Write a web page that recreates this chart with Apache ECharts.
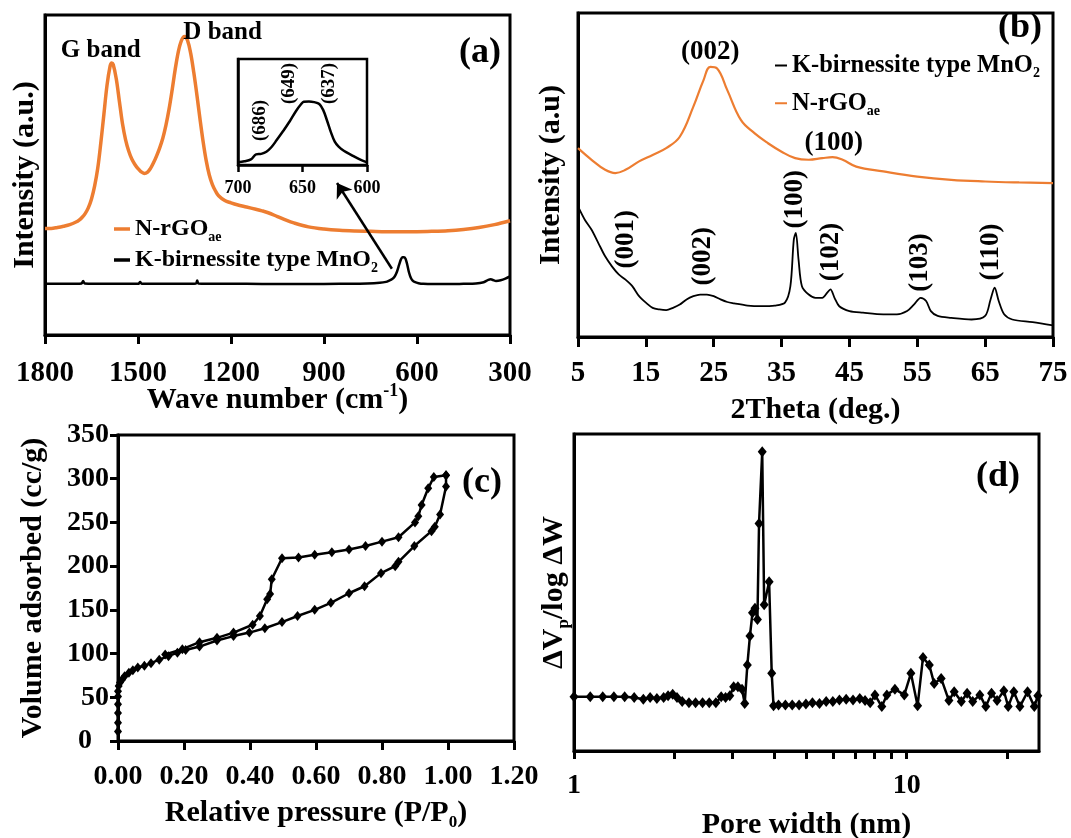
<!DOCTYPE html>
<html><head><meta charset="utf-8">
<script src="https://cdn.jsdelivr.net/npm/echarts@6/dist/echarts.min.js"></script>
<style>html,body{margin:0;padding:0;background:#fff}#c{width:1071px;height:838px}</style>
</head><body><div id="c"></div>
<script>
// ---------- (a) Raman ----------
const ramanWave = [1800,1780,1760,1740,1720,1700,1690,1680,1670,1660,1650,1640,1630,1620,1610,1600,1590,1585,1580,1570,1560,1550,1540,1530,1520,1510,1500,1490,1480,1470,1460,1450,1440,1430,1420,1410,1400,1390,1380,1370,1360,1350,1340,1330,1320,1310,1300,1290,1280,1270,1260,1250,1240,1220,1200,1180,1150,1120,1100,1080,1050,1020,1000,950,900,850,800,750,700,650,600,550,500,450,400,350,300];
const ramanNrGO = [33.3,33.3,33.6,34.0,34.5,35.3,35.9,36.8,38.0,39.8,42.5,46.5,52,60,69,78,84,85,84.5,80,73,66,61,57.5,55,53.3,52,51,50.5,50.8,52,53.8,56,58.5,61.5,65.5,70.5,76.5,83,88.5,92,93.3,92,88,82,75,67.5,60.5,54.5,50,47,45,43.5,42,41.3,40.7,40,39.3,38.8,38.2,37,35.8,35.1,33.8,33.1,32.7,32.5,32.4,32.3,32.3,32.3,32.4,32.6,33,33.6,34.5,35.7];
const ramanMnWave = [1800,1750,1700,1682,1677,1672,1600,1550,1500,1497,1493,1488,1400,1350,1313,1309,1305,1250,1150,1050,950,850,760,720,700,690,680,672,665,658,652,647,642,637,632,626,620,614,606,595,580,550,500,450,410,385,370,362,355,345,330,315,300];
const ramanMnO2 = [16,16,16,16.1,16.9,16.1,16,16,16,16.1,16.6,16.0,16,16,16.1,17.0,16.1,16,16,15.9,15.9,16,16.1,16.3,16.6,17.0,17.5,18.3,19.7,21.8,23.6,24.3,24.3,23.8,22.2,19.6,17.9,17.0,16.5,16.2,16,15.9,15.9,16,16.1,16.5,17.2,17.4,17.2,16.9,17.1,17.6,18.3];
const insetWave = [700,695,690,686,682,678,674,670,665,660,655,651,649,645,641,637,634,631,628,625,622,618,612,606,600];
const insetMnO2 = [2.5,3.5,5.3,10,10.5,12.5,17,23.5,32,41,51,57.5,59.7,60,59.3,57.5,52,42,31,22,17.3,13.5,9.4,5.5,2.5];
const ramanTicks = [300,600,900,1200,1500,1800];
const insetTicks = [600,650,700];
// ---------- (b) XRD ----------
const xrdThetaGO = [5,7,9,10.5,12,14,16,18,20,22,23.5,24.5,25.5,27,29,31,33,35,37,39,41,42.5,44,46,50,55,60,65,70,75];
const xrdNrGO = [58.3,54.7,51.6,50.6,51.6,54.2,56.2,58.3,61.8,71.1,79.3,83.4,82.9,76.2,67,62.9,59.8,57.2,55.2,54.7,55.2,55.5,54.7,52.6,51.1,49.5,48.5,48,47.7,47.5];
const xrdThetaMn = [5,6,7,8,9,10,11,12,13,14,15,16,17,18,19,20,21,22,23,24,25,26,27,28,30,32,34,35.5,36.3,36.8,37.1,37.5,38,39,40,41,41.7,42.2,42.8,43.5,45,47,50,52,53.5,54.5,55.5,56.3,57,58,60,63,65,65.8,66.4,67,67.8,69,72,75];
const xrdMnO2 = [40.3,36.2,33.1,29,24.9,21.8,19.3,17.7,15.7,12.6,10.6,9,8.5,8.3,9,10,11.6,12.6,13.1,13.1,12.6,11.6,10.8,10.4,9.7,9.5,9.7,10.6,15.7,30,32.1,23.9,15.7,13.1,12.1,12.1,13.6,14.7,12.1,9.5,8,7.5,7,7,8,10,12.1,11.1,8,6.5,5.9,5.4,6.5,11.6,15.2,11.1,7,5.4,4.6,3.6];
const xrdTicks = [5,15,25,35,45,55,65,75];
// ---------- (c) BET isotherm ----------
const adsP = [0,0,0,0,0,0,0.002,0.006,0.012,0.02,0.033,0.045,0.06,0.08,0.10,0.125,0.153,0.18,0.205,0.247,0.30,0.35,0.398,0.445,0.497,0.544,0.596,0.645,0.70,0.747,0.797,0.84,0.85,0.898,0.95,0.96,0.976,0.994,0.994];
const adsV = [11,21,32,42,51,57,63,67,70,74,78,81,84,86,89,93,97,101,104,108,115,120,124,129,136,143,150,158,169,177,192,200,205,223,240,245,259,291,304];
const desP = [0.994,0.957,0.94,0.92,0.91,0.90,0.85,0.80,0.75,0.70,0.648,0.596,0.547,0.497,0.466,0.461,0.452,0.43,0.408,0.35,0.30,0.247,0.195,0.143];
const desV = [304,302,289,270,257,250,233,228,223,219,216,213,210,209,185,168,162,143,133,124,118,113,105,99];
const bet_xTicks = [0,0.2,0.4,0.6,0.8,1.0,1.2];
// ---------- (d) pore size distribution ----------
const poreWidth = [1.0,1.119,1.22,1.318,1.42,1.517,1.616,1.694,1.775,1.86,1.918,1.98,2.04,2.115,2.216,2.32,2.435,2.55,2.67,2.77,2.855,2.94,3.02,3.11,3.2,3.26,3.32,3.38,3.44,3.5,3.56,3.6,3.68,3.73,3.86,3.93,3.98,4.12,4.32,4.53,4.75,4.98,5.21,5.47,5.73,6.0,6.28,6.58,6.9,7.23,7.5,7.77,8.03,8.42,8.72,9.22,9.84,10.3,10.79,11.2,11.7,12.1,12.7,13.4,13.9,14.6,15.2,15.8,16.6,17.3,18.0,18.7,19.6,20.2,21.0,21.9,23.1,24.2,24.8];
const poreDist = [17.1,17.1,17.1,17.1,17.1,16.9,16.3,16.9,16.6,16.9,17.4,17.9,16.9,15.6,15.2,15.2,15.2,15.2,15.2,17.1,16.9,17.4,20.3,20.3,19.5,15.0,27.1,36.3,43.6,45.0,41.5,71.8,94.4,46.1,53.4,24.5,14.3,14.5,14.5,14.5,14.5,14.8,15.2,15.0,15.6,15.6,16.1,16.3,16.1,16.6,15.9,15.2,17.7,14.0,17.7,19.5,17.7,24.5,14.3,29.5,27.1,21.3,22.9,15.9,18.7,15.6,18.2,15.6,17.7,14.0,18.2,15.9,19.0,14.0,18.7,14.0,18.7,14.0,17.4];
const poreTicks = [1,2,3,4,5,6,7,8,9,10,20];
const poreLabels = [1,10];

const zip = (a, b) => a.map((v, i) => [v, b[i]]);
const FONT = "'Liberation Serif','Times New Roman',serif";
const ORANGE = '#ED7D31';
const T = (s, extra) => Object.assign({fontFamily: FONT, fontWeight: 'bold', fontSize: s, color: '#000'}, extra || {});
const richSet = (s) => ({
  t: T(s, {lineHeight: s + 6}),
  s: T(Math.round(s * 0.58), {verticalAlign: 'bottom', lineHeight: Math.round(s * 0.7)}),
  sup: T(Math.round(s * 0.6), {verticalAlign: 'top', lineHeight: Math.round(s * 0.75)})
});
const plain = v => String(v);

function xAx(o) {
  return Object.assign({
    type: 'value', splitLine: {show: false},
    axisLine: {show: true, onZero: false, lineStyle: {color: '#000', width: 3}},
    axisTick: {show: true, inside: false, length: 9, lineStyle: {color: '#000', width: 3}},
    axisLabel: T(29, {margin: 22, formatter: plain}),
    nameLocation: 'middle'
  }, o);
}
function yAx(o) {
  return Object.assign({
    type: 'value', min: 0, max: 100, splitLine: {show: false},
    axisLine: {show: true, onZero: false, lineStyle: {color: '#000', width: 3}},
    axisTick: {show: false}, axisLabel: {show: false},
    nameLocation: 'middle'
  }, o);
}
function gridOf(o) {
  return Object.assign({show: true, borderColor: '#000', borderWidth: 3, backgroundColor: 'transparent', containLabel: false, outerBoundsMode: 'none'}, o);
}
const markPts = (items, size, extra) => ({
  symbol: 'rect', symbolSize: 1, silent: true,
  itemStyle: {color: 'rgba(0,0,0,0)'},
  label: T(size, Object.assign({show: true, position: 'inside', formatter: '{b}'}, extra || {})),
  data: items
});
const legendFmt = (name) => name === 'N-rGOae' ? '{t|N-rGO}{s|ae}' : '{t|K-birnessite type MnO}{s|2}';
const tickStyle = (len, vals) => ({show: true, inside: false, length: len, lineStyle: {color: '#000', width: 3}, customValues: vals});

const chart = echarts.init(document.getElementById('c'), null, {renderer: 'canvas'});
chart.setOption({
  animation: false,
  backgroundColor: '#fff',
  grid: [
    gridOf({left: 45, top: 15, width: 465, height: 320}),
    gridOf({left: 238, top: 59, width: 129, height: 106, borderWidth: 2.5}),
    gridOf({left: 578, top: 13, width: 475, height: 324}),
    gridOf({left: 118, top: 435, width: 396, height: 306}),
    gridOf({left: 574, top: 434, width: 465, height: 317})
  ],
  xAxis: [
    xAx({gridIndex: 0, min: 300, max: 1800, inverse: true,
      axisTick: tickStyle(9, ramanTicks),
      axisLabel: T(29, {margin: 24, formatter: plain, customValues: ramanTicks}),
      name: '{t|Wave number (cm}{sup|-1}{t|)}', nameGap: 47, nameMoveOverlap: false,
      nameTextStyle: T(30, {rich: richSet(30)})}),
    xAx({gridIndex: 1, min: 600, max: 700, inverse: true,
      axisLine: {show: true, onZero: false, lineStyle: {color: '#000', width: 2.5}},
      axisTick: {show: true, length: 7, lineStyle: {color: '#000', width: 2.5}, customValues: insetTicks},
      axisLabel: T(18, {margin: 14, formatter: plain, customValues: insetTicks})}),
    xAx({gridIndex: 2, min: 5, max: 75,
      axisTick: tickStyle(10, xrdTicks),
      axisLabel: T(29, {margin: 22, formatter: plain, customValues: xrdTicks}),
      name: '2Theta (deg.)', nameGap: 58, nameTextStyle: T(30)}),
    xAx({gridIndex: 3, min: 0, max: 1.2,
      axisTick: tickStyle(9, bet_xTicks),
      axisLabel: T(28, {margin: 22, customValues: bet_xTicks, formatter: v => v.toFixed(2)}),
      name: '{t|Relative pressure (P/P}{s|0}{t|)}', nameGap: 54,
      nameTextStyle: T(30, {rich: richSet(30)})}),
    xAx({gridIndex: 4, type: 'log', logBase: 10, min: 1, max: 25,
      axisTick: tickStyle(8, poreTicks),
      axisLabel: T(28, {margin: 21, formatter: plain, customValues: poreLabels}),
      minorTick: {show: false},
      name: 'Pore width (nm)', nameGap: 59, nameTextStyle: T(30)})
  ],
  yAxis: [
    yAx({gridIndex: 0, name: 'Intensity (a.u.)', nameGap: 5, nameTextStyle: T(30)}),
    yAx({gridIndex: 1, axisLine: {show: true, lineStyle: {color: '#000', width: 2.5}}}),
    yAx({gridIndex: 2, name: 'Intensity (a.u)', nameGap: 12, nameTextStyle: T(30)}),
    yAx({gridIndex: 3, min: 0, max: 350, interval: 50,
      axisTick: {show: true, inside: false, length: 8, lineStyle: {color: '#000', width: 3}},
      axisLabel: T(28, {margin: 9, formatter: v => v === 0 ? '{z|0}' : String(v),
        rich: {z: T(28, {padding: [0, 17, 0, 0]})}}),
      name: 'Volume adsorbed (cc/g)', nameGap: 70, nameTextStyle: T(30)}),
    yAx({gridIndex: 4, name: '{t|ΔV}{s|p}{t|/log ΔW}', nameGap: 2,
      nameTextStyle: T(30, {rich: richSet(30)})})
  ],
  legend: [
    {left: 109, top: 212, orient: 'vertical', itemGap: 4, selectedMode: false,
      data: ['N-rGOae', 'K-birnessite type MnO2'], icon: 'rect', itemWidth: 16, itemHeight: 3.5,
      formatter: legendFmt, textStyle: T(24, {rich: richSet(24)})},
    {left: 770, top: 48, orient: 'vertical', itemGap: 10, selectedMode: false,
      data: ['K-birnessite type MnO2', 'N-rGOae'], icon: 'rect', itemWidth: 12, itemHeight: 2,
      formatter: legendFmt, textStyle: T(24.5, {rich: richSet(24.5)})}
  ],
  graphic: [
    {type: 'text', x: 480, y: 53, style: {text: '(a)', align: 'center', verticalAlign: 'middle', font: 'bold 36px ' + FONT, fill: '#000'}},
    {type: 'text', x: 1020, y: 28, style: {text: '(b)', align: 'center', verticalAlign: 'middle', font: 'bold 36px ' + FONT, fill: '#000'}},
    {type: 'text', x: 482, y: 483, style: {text: '(c)', align: 'center', verticalAlign: 'middle', font: 'bold 36px ' + FONT, fill: '#000'}},
    {type: 'text', x: 998, y: 477, style: {text: '(d)', align: 'center', verticalAlign: 'middle', font: 'bold 36px ' + FONT, fill: '#000'}}
  ],
  series: [
    {name: 'N-rGOae', type: 'line', xAxisIndex: 0, yAxisIndex: 0, data: zip(ramanWave, ramanNrGO),
      showSymbol: false, smooth: 0.35, lineStyle: {color: ORANGE, width: 3.5}, itemStyle: {color: ORANGE},
      markPoint: markPts([{name: 'G band', coord: [1620, 89]}, {name: 'D band', coord: [1227, 94.5]}], 25)},
    {name: 'K-birnessite type MnO2', type: 'line', xAxisIndex: 0, yAxisIndex: 0, data: zip(ramanMnWave, ramanMnO2),
      showSymbol: false, smooth: 0.3, lineStyle: {color: '#000', width: 2.5}, itemStyle: {color: '#000'},
      markLine: {silent: true, symbol: ['none', 'arrow'], symbolSize: 14, label: {show: false},
        lineStyle: {color: '#000', width: 2.5, type: 'solid'},
        data: [[{coord: [681, 20.7]}, {coord: [858, 47.5]}]]}},
    {name: 'inset', type: 'line', xAxisIndex: 1, yAxisIndex: 1, data: zip(insetWave, insetMnO2),
      showSymbol: false, smooth: 0.35, lineStyle: {color: '#000', width: 2.5}, itemStyle: {color: '#000'},
      markPoint: markPts([{name: '(686)', coord: [683, 42]}, {name: '(649)', coord: [660.5, 77]}, {name: '(637)', coord: [629, 77]}], 19, {rotate: 90})},
    {name: 'N-rGOae', type: 'line', xAxisIndex: 2, yAxisIndex: 2, data: zip(xrdThetaGO, xrdNrGO),
      showSymbol: false, smooth: 0.4, lineStyle: {color: ORANGE, width: 2.2}, itemStyle: {color: ORANGE},
      markPoint: markPts([{name: '(002)', coord: [24.5, 88]}, {name: '(100)', coord: [42.7, 60]}], 27)},
    {name: 'K-birnessite type MnO2', type: 'line', xAxisIndex: 2, yAxisIndex: 2, data: zip(xrdThetaMn, xrdMnO2),
      showSymbol: false, smooth: 0.3, lineStyle: {color: '#000', width: 1.8}, itemStyle: {color: '#000'},
      markPoint: markPts([
        {name: '(001)', coord: [12.1, 30.2]}, {name: '(002)', coord: [23.4, 24.9]}, {name: '(100)', coord: [37, 42.5]},
        {name: '(102)', coord: [42.3, 26.2]}, {name: '(103)', coord: [55.4, 23]}, {name: '(110)', coord: [65.9, 26.2]}], 27, {rotate: 90})},
    {name: 'Adsorption', type: 'line', xAxisIndex: 3, yAxisIndex: 3, data: zip(adsP, adsV),
      symbol: 'diamond', symbolSize: [8, 10], showSymbol: true, lineStyle: {color: '#000', width: 2.5}, itemStyle: {color: '#000'}},
    {name: 'Desorption', type: 'line', xAxisIndex: 3, yAxisIndex: 3, data: zip(desP, desV),
      symbol: 'diamond', symbolSize: [8, 10], showSymbol: true, lineStyle: {color: '#000', width: 2.5}, itemStyle: {color: '#000'}},
    {name: 'PSD', type: 'line', xAxisIndex: 4, yAxisIndex: 4, data: zip(poreWidth, poreDist),
      symbol: 'diamond', symbolSize: [9, 11], showSymbol: true, lineStyle: {color: '#000', width: 2.5}, itemStyle: {color: '#000'}}
  ]
});
</script></body></html>
